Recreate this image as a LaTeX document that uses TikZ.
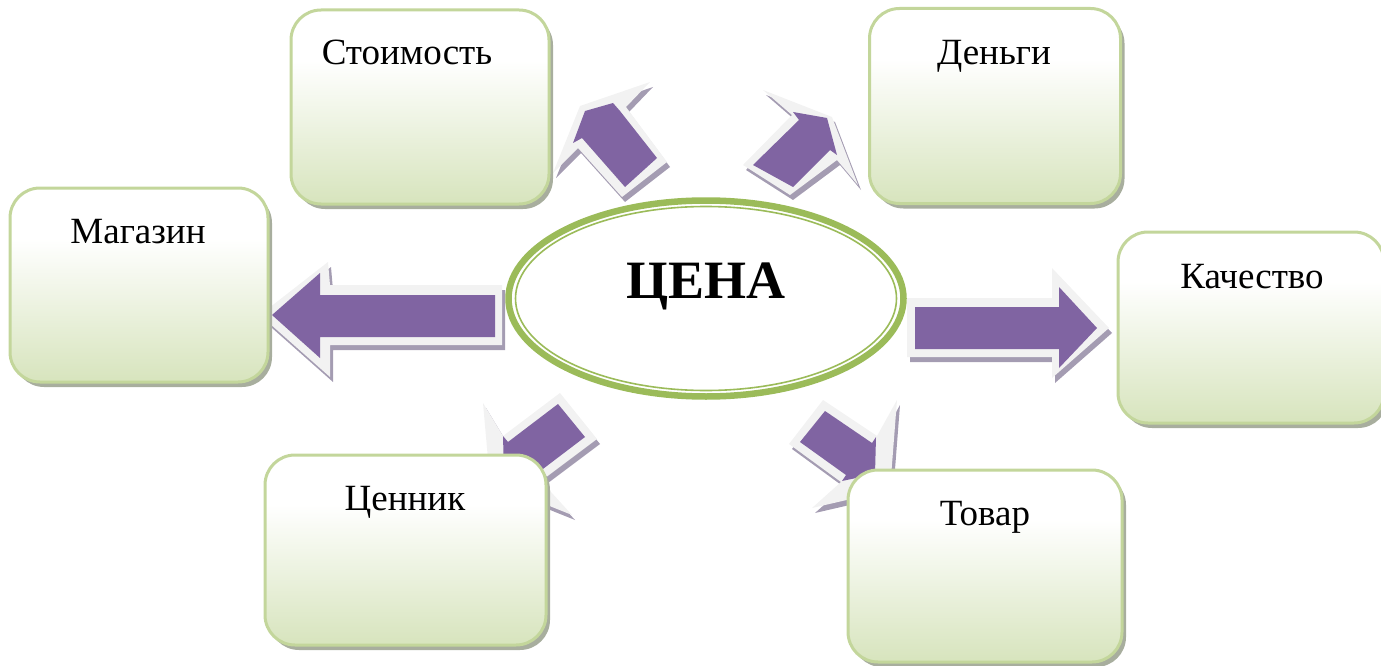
\documentclass[tikz,border=0pt]{standalone}
\usepackage{fontspec}
\setmainfont{Liberation Serif}
\usetikzlibrary{shapes.geometric,shadows}
\definecolor{arrpurple}{HTML}{8064A2}
\definecolor{arrgrey}{HTML}{F2F2F2}
\definecolor{arrshadow}{HTML}{A49CB2}
\definecolor{ringgreen}{HTML}{9BBB59}
\definecolor{boxborder}{HTML}{C3D69B}
\definecolor{boxfill}{HTML}{D7E4BD}
\definecolor{boxshadow}{HTML}{A8AE9E}
\pgfdeclareverticalshading{boxshade}{100bp}{color(0bp)=(boxfill); color(25bp)=(boxfill); color(62bp)=(white); color(100bp)=(white)}
\newcommand\blockarrow[2]{%
  \fill[arrshadow,shift={(3,5)}] #1;
  \fill[arrgrey] #1;
  \fill[arrpurple] #2;}
\begin{document}
\begin{tikzpicture}[x=1pt,y=-1pt,
  box/.style={draw=boxborder, line width=3pt, rounded corners=30pt, shade, shading=boxshade,
    inner sep=0pt, drop shadow={shadow xshift=4pt, shadow yshift=-5pt, fill=boxshadow, opacity=1}},
  lbl/.style={font=\fontsize{37}{40}\selectfont, anchor=base, inner sep=0pt},
  ring/.style={draw=ringgreen, fill=white, line width=6.5pt, ellipse, inner sep=0pt}]
\useasboundingbox (0,0) rectangle (1381,666);
% arrows
\blockarrow{(580,106) -- (650,82) -- (626,107) -- (667,162) -- (622,197) -- (578,148) -- (553,173) -- cycle}
           {(585,111) -- (613,103) -- (620,111) -- (657,158) -- (625,187) -- (582,138) -- (573,143) -- cycle}
\blockarrow{(763,90) -- (832,117) -- (858,185) -- (837,160) -- (790,195) -- (743,165) -- (792,115) -- cycle}
           {(793,112) -- (827,118) -- (837,155) -- (830,150) -- (793,187) -- (753,165) -- (799,120) -- cycle}
\blockarrow{(260,315) -- (328,262) -- (330,285) -- (502,285) -- (502,345) -- (330,345) -- (330,377) -- cycle}
           {(272,315) -- (320,273) -- (320,295) -- (495,295) -- (495,337) -- (320,337) -- (320,358) -- cycle}
\blockarrow{(907,298) -- (1052,298) -- (1052,268) -- (1109,328) -- (1052,378) -- (1052,357) -- (907,357) -- cycle}
           {(915,307) -- (1059,307) -- (1059,287) -- (1097,328) -- (1059,368) -- (1059,349) -- (915,349) -- cycle}
\blockarrow{(560,393) -- (597,439) -- (541,481) -- (572,515) -- (490,482) -- (483,403) -- (503,436) -- cycle}
           {(558,404) -- (585,437) -- (535,475) -- (540,481) -- (504,472) -- (503,436) -- (508,442) -- cycle}
\blockarrow{(823,400) -- (877,436) -- (897,400) -- (890,490) -- (812,508) -- (841,482) -- (789,444) -- cycle}
           {(825,411) -- (872,443) -- (876,437) -- (875,474) -- (842,481) -- (846,475) -- (800,442) -- cycle}
% centre
\node[ring, minimum width=395pt, minimum height=196pt] (c) at (706,298.5) {};
\draw[ringgreen, line width=1.6pt] (c.center) ellipse [x radius=190.5pt, y radius=92pt];
\node[font=\bfseries\fontsize{54}{60}\selectfont, anchor=base, inner sep=0pt] (cena) at (706,298) {ЦЕНА};
% boxes
\node[box, minimum width=258pt, minimum height=194pt] (b1) at (420,107) {};
\node[box, minimum width=251pt, minimum height=195pt] (b2) at (995,106) {};
\node[box, minimum width=258pt, minimum height=194pt] (b3) at (139,285) {};
\node[box, minimum width=266pt, minimum height=191pt] (b4) at (1251,327.5) {};
\node[box, minimum width=281pt, minimum height=190pt] (b5) at (405.5,550) {};
\node[box, minimum width=274pt, minimum height=192pt] (b6) at (985,566) {};
\node[lbl] (t1) at (407,65) {Стоимость};
\node[lbl] (t2) at (994,65) {Деньги};
\node[lbl] (t3) at (138,243) {Магазин};
\node[lbl] (t4) at (1252,288) {Качество};
\node[lbl] (t5) at (405,510) {Ценник};
\node[lbl] (t6) at (985,525) {Товар};
\end{tikzpicture}
\end{document}
